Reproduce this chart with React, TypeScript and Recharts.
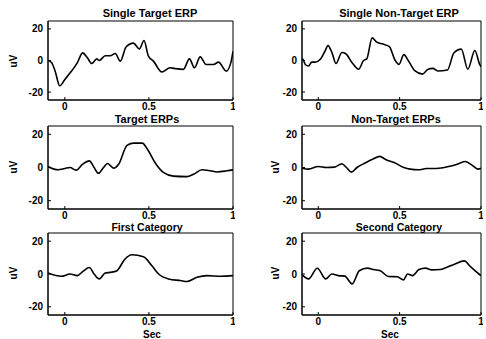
import { LineChart, Line, XAxis, YAxis, ReferenceArea } from "recharts";

// time (s) and amplitude (uV)
const tSingleTarget = [-0.1, -0.078, -0.058, -0.03, 0.0, 0.04, 0.074, 0.106, 0.134, 0.16, 0.19, 0.205, 0.24, 0.27, 0.3, 0.33, 0.364, 0.408, 0.443, 0.471, 0.497, 0.527, 0.577, 0.626, 0.65, 0.705, 0.741, 0.771, 0.805, 0.84, 0.885, 0.914, 0.96, 0.988, 1.0];
const vSingleTarget = [0, -1.4, -6.6, -16, -12, -6.7, -1.5, 4.8, 1.7, -1.9, 1, 0, 3, 3, 4.4, -0.4, 8.5, 11, 7.3, 12.7, 2.7, -0.4, -7.3, -4.6, -5, -5.6, 1, -4.6, 2.3, -2.5, -2.5, -1, -6.7, -1, 5.8];

const tSingleNonTarget = [-0.1, -0.093, -0.08, -0.06, -0.04, -0.02, 0.014, 0.04, 0.06, 0.085, 0.109, 0.145, 0.169, 0.208, 0.248, 0.278, 0.298, 0.331, 0.357, 0.397, 0.437, 0.47, 0.496, 0.526, 0.555, 0.595, 0.641, 0.675, 0.704, 0.734, 0.794, 0.833, 0.879, 0.919, 0.962, 0.992, 1.0];
const vSingleNonTarget = [1, 0.6, -2.5, -3.5, -1, -1, 1, 5.7, 9.4, 4.7, -1.9, 5.1, 4.3, -1.4, -5.5, 0, 1, 14.3, 11.8, 10.4, 8.8, 0.6, -2.5, 3.7, -0.4, -6.6, -8.6, -5.5, -5, -6.6, -6, 4.7, 7.2, -5.5, 6.3, -2.5, -4];

const tTarget = [-0.1, -0.039, 0, 0.031, 0.067, 0.106, 0.146, 0.174, 0.2, 0.23, 0.254, 0.29, 0.32, 0.37, 0.41, 0.46, 0.496, 0.536, 0.586, 0.645, 0.725, 0.765, 0.815, 0.865, 0.905, 0.964, 1.0];
const vTarget = [0.6, -1.4, -0.6, 0, -1.6, 2, 4, 0, -3.5, 0, 2.4, -0.4, 2, 13.3, 14.7, 14.7, 10.2, 3, -3, -5.2, -5.5, -4.1, -1.4, -2, -2.7, -2, -1.4];

const tNonTarget = [-0.1, -0.06, 0, 0.05, 0.1, 0.145, 0.173, 0.204, 0.238, 0.288, 0.337, 0.377, 0.417, 0.466, 0.526, 0.565, 0.615, 0.665, 0.724, 0.774, 0.823, 0.863, 0.903, 0.942, 0.982, 1.0];
const vNonTarget = [-0.4, -1, 0.6, 0, 0.2, 2.3, 0, -2.8, 0, 2.7, 5.1, 6.7, 4.7, 3, 0, -1, -1.4, -0.6, -0.6, 0, 1, 2.3, 3.6, 1.6, -1, -0.5];

const tFirst = [-0.1, -0.02, 0.031, 0.074, 0.11, 0.146, 0.174, 0.205, 0.24, 0.27, 0.307, 0.357, 0.398, 0.468, 0.518, 0.558, 0.617, 0.687, 0.727, 0.786, 0.846, 0.926, 1.0];
const vFirst = [0.6, -1.4, 0, -1, 1.8, 4, 0, -3, 0.6, 1, 1.8, 9, 11.7, 10.5, 5, 0, -3, -4, -4.6, -2, -1, -1.4, -1];

const tSecond = [-0.1, -0.06, -0.006, 0.046, 0.083, 0.123, 0.163, 0.208, 0.252, 0.302, 0.341, 0.381, 0.43, 0.486, 0.524, 0.549, 0.579, 0.619, 0.659, 0.698, 0.748, 0.787, 0.837, 0.897, 0.937, 0.987, 1.0];
const vSecond = [-0.4, -3, 3.5, -3, 0, -1, -1.3, -6, 2, 3.6, 2.7, 2, -1.5, -1.7, -3.6, 0, -1, 2.7, 3.6, 2.5, 2.7, 4, 6, 8, 4.3, 0, -1];

const xTicks = [0, 0.5, 1];
const yTicks = [-20, 0, 20];

const FONT = '"Liberation Sans", Arial, Helvetica, sans-serif';
const YW = 30;
const TOPPAD = 4;
const XH = 16;
const RPAD = 2;

type PanelProps = { t: number[]; v: number[]; left: number; top: number; width: number; height: number };

function Panel({ t, v, left, top, width, height }: PanelProps) {
  const data = t.map((x, i) => ({ t: x, v: v[i] }));
  const tickStyle = { fill: "#000", fontSize: 10, fontWeight: 700, fontFamily: FONT };
  return (
    <div style={{ position: "absolute", left: left - YW, top: top - TOPPAD }}>
      <LineChart
        width={YW + width + RPAD}
        height={TOPPAD + height + XH}
        data={data}
        margin={{ top: TOPPAD, right: RPAD, bottom: 0, left: 0 }}
      >
        <XAxis
          dataKey="t"
          type="number"
          domain={[-0.1, 1]}
          ticks={xTicks}
          interval={0}
          allowDataOverflow
          height={XH}
          stroke="#000"
          tickSize={-3}
          tickMargin={6}
          tick={tickStyle}
        />
        <YAxis
          type="number"
          domain={[-25, 25]}
          ticks={yTicks}
          interval={0}
          allowDataOverflow
          width={YW}
          stroke="#000"
          tickSize={-3}
          tickMargin={8}
          tick={tickStyle}
        />
        <ReferenceArea x1={-0.1} x2={1} y1={-25} y2={25} fill="none" stroke="#000" strokeOpacity={1} fillOpacity={0} />
        <Line dataKey="v" type="monotone" stroke="#000" strokeWidth={1.6} dot={false} isAnimationActive={false} />
      </LineChart>
    </div>
  );
}

export default function App() {
  const txt = { fontFamily: FONT, fontWeight: 700, fill: "#000" } as const;
  return (
    <div style={{ position: "fixed", left: 0, top: 0, width: 486, height: 339, background: "#fff", overflow: "hidden" }}>
      <Panel t={tSingleTarget} v={vSingleTarget} left={48} top={21} width={185} height={79} />
      <Panel t={tSingleNonTarget} v={vSingleNonTarget} left={302} top={21} width={179} height={79} />
      <Panel t={tTarget} v={vTarget} left={48} top={126} width={185} height={83} />
      <Panel t={tNonTarget} v={vNonTarget} left={302} top={126} width={179} height={83} />
      <Panel t={tFirst} v={vFirst} left={48} top={233} width={185} height={82} />
      <Panel t={tSecond} v={vSecond} left={302} top={233} width={179} height={82} />
      <svg width={486} height={339} style={{ position: "absolute", left: 0, top: 0, pointerEvents: "none" }}>
        <text x={150} y={17} textAnchor="middle" fontSize={11} {...txt}>Single Target ERP</text>
        <text x={399} y={17} textAnchor="middle" fontSize={11} {...txt}>Single Non-Target ERP</text>
        <text x={147} y={123} textAnchor="middle" fontSize={11} {...txt}>Target ERPs</text>
        <text x={396} y={123} textAnchor="middle" fontSize={11} {...txt}>Non-Target ERPs</text>
        <text x={147} y={230.5} textAnchor="middle" fontSize={10.5} {...txt}>First Category</text>
        <text x={399} y={230.5} textAnchor="middle" fontSize={10.5} {...txt}>Second Category</text>
        <text x={17} y={61} textAnchor="middle" fontSize={10} transform="rotate(-90 17 61)" {...txt}>uV</text>
        <text x={17} y={167} textAnchor="middle" fontSize={10} transform="rotate(-90 17 167)" {...txt}>uV</text>
        <text x={17} y={273} textAnchor="middle" fontSize={10} transform="rotate(-90 17 273)" {...txt}>uV</text>
        <text x={278.5} y={167} textAnchor="middle" fontSize={10} transform="rotate(-90 278.5 167)" {...txt}>uV</text>
        <text x={278.5} y={273} textAnchor="middle" fontSize={10} transform="rotate(-90 278.5 273)" {...txt}>uV</text>
        <text x={152} y={338} textAnchor="middle" fontSize={10} {...txt}>Sec</text>
        <text x={390} y={338} textAnchor="middle" fontSize={10} {...txt}>Sec</text>
      </svg>
    </div>
  );
}
